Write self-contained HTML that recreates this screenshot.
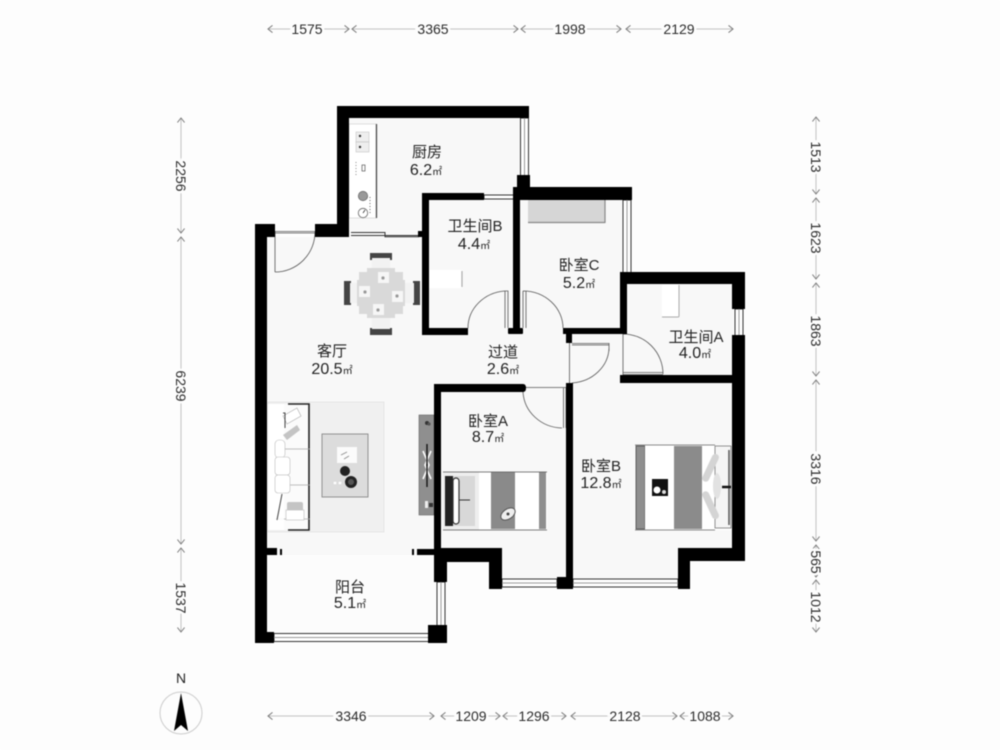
<!DOCTYPE html>
<html><head><meta charset="utf-8"><style>
html,body{margin:0;padding:0;background:#fdfdfd}
svg{display:block;filter:blur(.55px)}
.l{font-family:"Liberation Sans","Noto Sans CJK SC",sans-serif;font-size:15px;fill:#222;text-anchor:middle}
.a{font-family:"Liberation Sans","Noto Sans CJK SC",sans-serif;font-size:16px;fill:#222;text-anchor:middle}
.a tspan{font-size:10px}
.d{font-family:"Liberation Sans",sans-serif;font-size:14px;fill:#2c2c2c;text-anchor:middle;stroke:#fdfdfd;stroke-width:5px;paint-order:stroke;dominant-baseline:central}
.dl line{stroke:#c2c2c2;stroke-width:1;marker-start:url(#ar);marker-end:url(#ar)}
.door{fill:none;stroke:#555;stroke-width:.8}
.win{fill:#fff;stroke:#333;stroke-width:1}
</style></head><body>
<svg width="1000" height="750" viewBox="0 0 1000 750" xmlns="http://www.w3.org/2000/svg">
<defs><marker id="ar" viewBox="0 0 10 10" refX="9" refY="5" markerWidth="9" markerHeight="9" markerUnits="userSpaceOnUse" orient="auto-start-reverse"><path d="M4 1L9 5L4 9" fill="none" stroke="#777" stroke-width="1.100"/></marker></defs>
<rect width="1000" height="750" fill="#fdfdfd"/>

<!-- floors -->
<path d="M267 237H349V118H520V195H627V284H733V548H678V578H502V548H441V578H436V633H267Z" fill="#f8f8f8"/>
<rect x="267" y="555" width="170" height="78" fill="#fcfcfc"/>

<!-- rug & living furniture -->
<rect x="268" y="402" width="116" height="130" fill="#f0f0f0" stroke="#ddd" stroke-width=".6"/>
<rect x="322" y="434" width="46" height="63" fill="#dcdcdc" stroke="#888" stroke-width=".9"/>
<rect x="337" y="447" width="20" height="16" fill="#fbfbfb"/>
<path d="M341 455l6-3M344 459l5-3" stroke="#888" stroke-width=".8"/>
<circle cx="345" cy="471" r="5" fill="#222"/><circle cx="351" cy="482" r="6" fill="#222"/><circle cx="351" cy="482" r="3" fill="#555"/>
<circle cx="335" cy="483" r="1.400" fill="#fff"/><circle cx="340" cy="483" r="1.400" fill="#fff"/>
<rect x="268" y="404" width="42" height="126" fill="#fbfbfb"/>
<path d="M288 404H309V530H288" stroke="#222" stroke-width="1.600" fill="none"/>
<path d="M275 449H310M275 485H310M275 519H310" stroke="#aaa" stroke-width=".8" fill="none"/>
<rect x="268" y="404" width="16" height="126" fill="#fff" opacity=".9"/>
<rect x="275" y="440" width="10" height="18" rx="4" fill="#fff" stroke="#bbb" stroke-width=".6"/>
<rect x="275" y="457" width="15" height="18" rx="3" fill="#fff" stroke="#bbb" stroke-width=".6"/>
<rect x="275" y="475" width="15" height="18" rx="3" fill="#fff" stroke="#bbb" stroke-width=".6"/>
<path d="M283 416l14-8 4 8-14 8z" fill="#fff" stroke="#aaa" stroke-width=".6"/>
<path d="M283 435l14-10 3 5-13 10z" fill="#c4c4c4"/>
<rect x="287" y="502" width="16" height="12" rx="2" fill="#c4c4c4"/>
<rect x="286" y="510" width="18" height="10" fill="#fff" stroke="#bbb" stroke-width=".6"/>
<path d="M283 413H285V428M282 494L277 520" stroke="#444" stroke-width="1" fill="none"/>

<!-- TV stand -->
<rect x="419" y="415" width="15" height="100" fill="#8f8f8f" stroke="#666" stroke-width=".6"/>
<circle cx="427" cy="423" r="2" fill="#333"/><circle cx="429" cy="424" r="1.600" fill="#555"/>
<path d="M423 451L429 465L423 479M431 451L425 465L431 479" stroke="#fff" stroke-width="1.600" fill="none"/>
<path d="M427 444V487" stroke="#111" stroke-width="1.400"/>
<rect x="425" y="501" width="3" height="7" fill="#eee"/><rect x="429" y="503" width="4" height="4" fill="#333"/>

<!-- dining -->
<rect x="370" y="253" width="22" height="7" fill="#444"/><rect x="372" y="258" width="18" height="12" fill="#f2f2f2"/>
<rect x="370" y="328" width="22" height="7" fill="#444"/><rect x="372" y="317" width="18" height="12" fill="#f2f2f2"/>
<rect x="344" y="281" width="7" height="24" fill="#444"/><rect x="350" y="283" width="10" height="20" fill="#f2f2f2"/>
<rect x="413" y="281" width="7" height="24" fill="#444"/><rect x="403" y="283" width="11" height="20" fill="#f2f2f2"/>
<path d="M367 268H395V272H403V280H405V306H403V314H395V318H367V314H359V306H357V280H359V272H367Z" fill="#d9d9d9"/>
<rect x="378" y="272" width="11" height="11" fill="#f6f6f6"/><circle cx="383" cy="278" r="1.600" fill="#999"/>
<rect x="359" y="286" width="11" height="11" fill="#f6f6f6"/><circle cx="365" cy="292" r="1.600" fill="#999"/>
<rect x="392" y="291" width="11" height="11" fill="#f6f6f6"/><circle cx="397" cy="296" r="1.600" fill="#999"/>
<rect x="373" y="304" width="11" height="11" fill="#f6f6f6"/><circle cx="378" cy="310" r="1.600" fill="#999"/>

<!-- kitchen counter -->
<rect x="349" y="124" width="27" height="94" fill="#fff" stroke="#ccc" stroke-width=".6"/>
<path d="M376.500 124V218" stroke="#444" stroke-width="1.200"/>
<rect x="356" y="132" width="13" height="10" fill="#eee" stroke="#bbb" stroke-width=".5"/>
<rect x="356" y="142" width="13" height="10" fill="#eee" stroke="#bbb" stroke-width=".5"/>
<circle cx="360" cy="136" r="1.200" fill="#333"/><circle cx="360" cy="147" r="1.200" fill="#333"/>
<rect x="362" y="165" width="3" height="6" fill="none" stroke="#555" stroke-width=".7"/>
<path d="M356 162V177" stroke="#888" stroke-dasharray="1 2"/>
<circle cx="363" cy="196" r="4.700" fill="#999" stroke="#555" stroke-width=".6"/>
<circle cx="363" cy="213" r="4.700" fill="#fff" stroke="#666" stroke-width=".8"/>
<path d="M363 213l2-3" stroke="#333" stroke-width=".8"/>
<path d="M370 197V215" stroke="#666" stroke-dasharray="1 2"/>

<!-- bath fixtures, AC -->
<rect x="428" y="270" width="35" height="18" rx="1" fill="#fff"/>
<path d="M462 271V287" stroke="#aaa" stroke-width="1.200"/>
<rect x="528" y="200" width="77" height="23" rx="1" fill="#d6d6d6"/>
<path d="M528 222.500H605M605 200V223" stroke="#888" stroke-width="1.200"/>
<rect x="662" y="285" width="17" height="32" fill="#fff"/>
<path d="M679 285V316Q679 317 678 317H662" fill="none" stroke="#aaa" stroke-width="1"/>

<!-- bed A -->
<rect x="443" y="472" width="104" height="58" fill="#fff"/>
<rect x="443" y="472" width="36" height="58" fill="#eee"/>
<rect x="445" y="476" width="8" height="50" fill="#222"/>
<rect x="453" y="476" width="22" height="50" fill="#d8d8d8"/>
<rect x="453" y="478" width="6" height="46" rx="3" fill="#fff" stroke="#333" stroke-width="1.200"/>
<path d="M459 500H470" stroke="#333" stroke-width="1"/>
<rect x="479" y="472" width="12" height="57" fill="#fff"/>
<rect x="491" y="472" width="24" height="57" fill="#8a8a8a"/>
<rect x="515" y="472" width="24" height="57" fill="#fff"/>
<rect x="539" y="472" width="7" height="57" fill="#8f8f8f"/>
<ellipse cx="508" cy="514" rx="8" ry="5" transform="rotate(-35 508 514)" fill="#eee" stroke="#555" stroke-width="1"/>
<circle cx="508" cy="514" r="1.500" fill="#444"/>
<path d="M443 472H547M443 530H547" stroke="#555" stroke-width=".8"/>

<!-- bed B -->
<rect x="635" y="445" width="97" height="85" fill="#fff"/>
<rect x="636" y="446" width="9" height="83" fill="#8f8f8f" stroke="#444" stroke-width=".8"/>
<rect x="645" y="445" width="28" height="85" fill="#fff"/>
<rect x="674" y="446" width="28" height="83" fill="#8b8b8b"/>
<rect x="702" y="445" width="13" height="85" fill="#fff"/>
<rect x="652" y="479" width="16" height="17" fill="#111"/>
<circle cx="657" cy="490" r="3.500" fill="#fff"/><circle cx="664" cy="492" r="2" fill="#ddd"/>
<rect x="715" y="446" width="16" height="82" fill="#f5f5f5" stroke="#777" stroke-width=".8"/>
<rect x="707" y="453" width="7" height="30" rx="3.500" transform="rotate(25 711 468)" fill="#d4d4d4"/>
<rect x="707" y="490" width="7" height="30" rx="3.500" transform="rotate(-25 711 505)" fill="#d4d4d4"/>
<ellipse cx="717" cy="486" rx="4" ry="13" fill="#e2e2e2"/>
<path d="M729 450V525" stroke="#555" stroke-width="1.500"/>
<path d="M722 487H731" stroke="#111" stroke-width="2.500"/>
<path d="M635 445H715M635 530H715" stroke="#666" stroke-width=".8"/>

<!-- windows -->
<g class="win">
<rect x="520.500" y="118" width="8" height="58"/><path d="M524.500 118V176" stroke="#999"/>
<rect x="623" y="200" width="8" height="73"/><path d="M627 200V273" stroke="#999"/>
<rect x="735" y="309" width="8" height="27"/><path d="M739 309V336" stroke="#999"/>
<rect x="437" y="582" width="8" height="44"/><path d="M441 582V626" stroke="#999"/>
<rect x="274" y="633.500" width="155" height="8"/><path d="M274 637.500H429" stroke="#999"/>
<rect x="502" y="579" width="55" height="8"/><path d="M502 583H557" stroke="#999"/>
<rect x="573" y="579" width="105" height="8"/><path d="M573 583H678" stroke="#999"/>
<rect x="484" y="195" width="30" height="4"/>
<path d="M351 232.500H385V235.500H419M351 235.500H385V236.800H419" fill="none" stroke="#333"/>
</g>

<!-- doors -->
<g class="door">
<path d="M275 231.500H315M275 233H315M275 231V272M315 232A40 40 0 0 1 275 272"/>
<path d="M505 291H508V328M505 291V328M468 328A40 37 0 0 1 505 291"/>
<path d="M523 291V328M526 291V328M523 291A40 37 0 0 1 563 328"/>
<path d="M572 343.500H609M572 345H609M609 343V351M609 348A40 36 0 0 1 572 383M569.500 343V383"/>
<path d="M623 334V375M623 334A40 40 0 0 1 663 374M623 372.500H663M623 374.500H663"/>
<path d="M525 387.500H566M563.500 388V428M566 388V428M523 392A40 38 0 0 0 562 428"/>
</g>

<!-- walls -->
<g fill="#000">
<path d="M337 106H529V118H349V237H315V224H337Z"/>
<rect x="517" y="175" width="13" height="25"/>
<rect x="517" y="187" width="115" height="13"/>
<rect x="513" y="187" width="7" height="147"/>
<rect x="508" y="328" width="15" height="6" rx="1"/>
<path d="M422 193H484V200H429V328H468V335H422Z"/>
<rect x="418" y="231" width="5" height="6"/>
<path d="M620 272H745V309H732V284H627V334H563V328H620Z"/>
<rect x="566" y="328" width="6" height="15"/>
<path d="M732 335H745V561H690V589H678V548H732Z"/>
<path d="M620 375H732V383H620Z"/>
<rect x="566" y="383" width="7" height="206"/>
<rect x="557" y="577" width="16" height="12"/>
<path d="M434 384H523Q526 384 526 388Q526 392 523 392H441V548H502V589H489V562H447V582H434Z"/>
<rect x="428" y="625" width="19" height="18"/>
<path d="M255 224H275V237H267V632H274V643H255Z"/>
<rect x="267" y="548" width="10" height="7"/>
<rect x="280" y="549" width="2" height="6"/>
<rect x="417" y="549" width="17" height="6"/>
<rect x="412" y="549" width="2" height="6"/>
</g>

<!-- room labels -->
<text class="l" x="427" y="157">厨房</text><text class="a" x="426" y="175">6.2<tspan>㎡</tspan></text>
<text class="l" x="475" y="231">卫生间B</text><text class="a" x="474" y="249">4.4<tspan>㎡</tspan></text>
<text class="l" x="579" y="270">卧室C</text><text class="a" x="579" y="288">5.2<tspan>㎡</tspan></text>
<text class="l" x="696" y="342">卫生间A</text><text class="a" x="695" y="358">4.0<tspan>㎡</tspan></text>
<text class="l" x="332" y="356">客厅</text><text class="a" x="332" y="374">20.5<tspan>㎡</tspan></text>
<text class="l" x="503" y="357">过道</text><text class="a" x="503" y="374">2.6<tspan>㎡</tspan></text>
<text class="l" x="488" y="426">卧室A</text><text class="a" x="488" y="442">8.7<tspan>㎡</tspan></text>
<text class="l" x="601" y="471">卧室B</text><text class="a" x="601" y="488">12.8<tspan>㎡</tspan></text>
<text class="l" x="350" y="592">阳台</text><text class="a" x="350" y="608">5.1<tspan>㎡</tspan></text>

<!-- dimension lines -->
<g class="dl">
<line x1="268" y1="29" x2="349" y2="29"/><line x1="352" y1="29" x2="518" y2="29"/><line x1="521" y1="29" x2="621" y2="29"/><line x1="626" y1="29" x2="733" y2="29"/>
<line x1="268" y1="716" x2="434" y2="716"/><line x1="441" y1="716" x2="500" y2="716"/><line x1="503" y1="716" x2="566" y2="716"/><line x1="571" y1="716" x2="677" y2="716"/><line x1="680" y1="716" x2="733" y2="716"/>
<line x1="181" y1="118" x2="181" y2="233"/><line x1="181" y1="237" x2="181" y2="544"/><line x1="181" y1="548" x2="181" y2="632"/>
<line x1="816" y1="117" x2="816" y2="194"/><line x1="816" y1="198" x2="816" y2="279"/><line x1="816" y1="283" x2="816" y2="376"/><line x1="816" y1="380" x2="816" y2="541"/><line x1="816" y1="545" x2="816" y2="577"/><line x1="816" y1="580" x2="816" y2="632"/>
</g>
<text class="d" x="307" y="29">1575</text><text class="d" x="433" y="29">3365</text><text class="d" x="570" y="29">1998</text><text class="d" x="679" y="29">2129</text>
<text class="d" x="351" y="716">3346</text><text class="d" x="471" y="716">1209</text><text class="d" x="534" y="716">1296</text><text class="d" x="625" y="716">2128</text><text class="d" x="705" y="716">1088</text>
<text class="d" transform="translate(181 176) rotate(90)">2256</text>
<text class="d" transform="translate(181 386) rotate(90)">6239</text>
<text class="d" transform="translate(181 598) rotate(90)">1537</text>
<text class="d" transform="translate(816 157) rotate(90)">1513</text>
<text class="d" transform="translate(816 238) rotate(90)">1623</text>
<text class="d" transform="translate(816 331) rotate(90)">1863</text>
<text class="d" transform="translate(816 469) rotate(90)">3316</text>
<text class="d" transform="translate(816 562) rotate(90)">565</text>
<text class="d" transform="translate(816 607) rotate(90)">1012</text>

<!-- compass -->
<text x="181" y="683" font-family="Liberation Sans, sans-serif" font-size="14" fill="#222" text-anchor="middle">N</text>
<circle cx="181" cy="713" r="21" fill="none" stroke="#ccc" stroke-width="1"/>
<path d="M181 693L188 731L181 725L174 731Z" fill="#000"/>
</svg>
</body></html>
